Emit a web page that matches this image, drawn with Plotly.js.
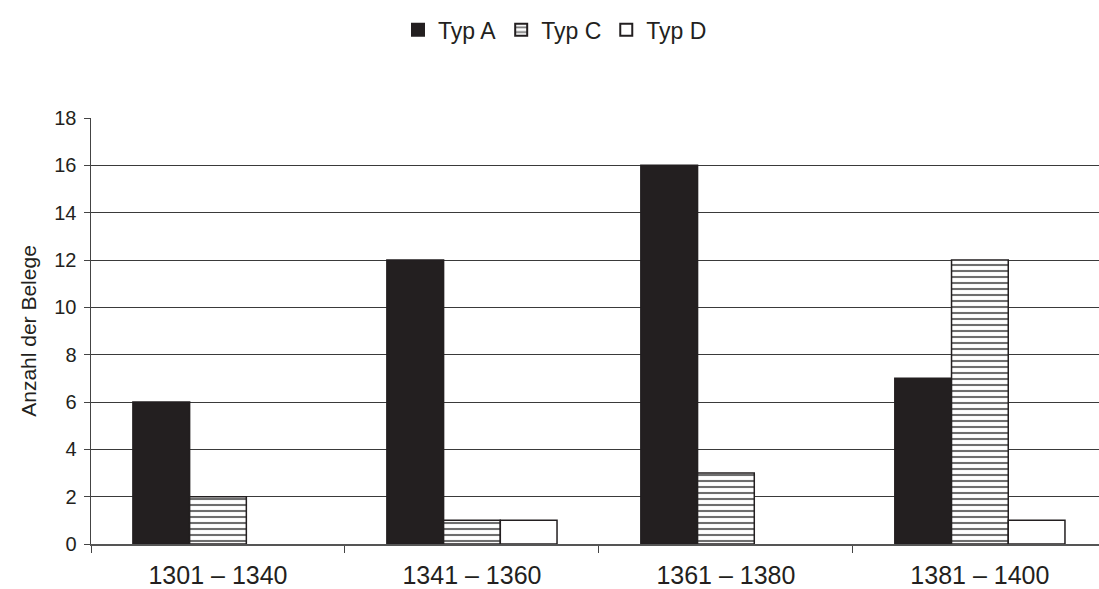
<!DOCTYPE html>
<html>
<head>
<meta charset="utf-8">
<script src="https://cdn.plot.ly/plotly-3.0.1.min.js"></script>
<style>
  html, body { margin: 0; padding: 0; background: #fff; }
  #chart { width: 1099px; height: 589px; }
</style>
</head>
<body>
<div id="chart"></div>
<script>
// Zeiträume (Kategorien) und Anzahl der Belege je Typ
const periods = ['1301 – 1340', '1341 – 1360', '1361 – 1380', '1381 – 1400'];
const typA = [6, 12, 16, 7];
const typC = [2, 1, 3, 12];
const typD = [0, 1, 0, 1];
const yTicks = [0, 2, 4, 6, 8, 10, 12, 14, 16, 18];

const ink = '#231f20';
// bars of height zero get no outline, so nothing is drawn on the baseline
const edgeFor = vals => ({ color: ink, width: vals.map(v => (v ? 1.5 : 0)) });

const traces = [
  {
    type: 'bar', name: 'Typ A', x: periods, y: typA,
    marker: { color: ink, line: edgeFor(typA) }
  },
  {
    type: 'bar', name: 'Typ C', x: periods, y: typC,
    marker: {
      color: '#ffffff', line: edgeFor(typC),
      pattern: { shape: '-', fgcolor: '#6e6e6e', bgcolor: '#ffffff', size: 6, solidity: 0.35 }
    }
  },
  {
    type: 'bar', name: 'Typ D', x: periods, y: typD,
    marker: { color: '#ffffff', line: edgeFor(typD) }
  }
];

const regular = 'Liberation Sans, Arial, sans-serif';

const layout = {
  width: 1099, height: 589,
  margin: { l: 91, r: 0, t: 118, b: 45, pad: 0 },
  paper_bgcolor: '#ffffff', plot_bgcolor: '#ffffff',
  font: { family: regular, size: 18, color: ink },
  barmode: 'group',
  bargap: 0.33, bargroupgap: 0,
  showlegend: true,
  legend: {
    orientation: 'h', x: 0.505, xanchor: 'center', xref: 'container',
    y: 0.986, yref: 'container', yanchor: 'top',
    font: { family: regular, size: 23, color: ink },
    itemwidth: 30, itemsizing: 'constant', traceorder: 'normal',
    bgcolor: 'rgba(0,0,0,0)'
  },
  xaxis: {
    type: 'category',
    range: [-0.5, 3.469],
    tickson: 'boundaries',
    ticks: 'outside', ticklen: 7, tickcolor: '#444', tickwidth: 1,
    showline: true, linecolor: '#555', linewidth: 1.5,
    showgrid: false, zeroline: false,
    tickfont: { family: regular, size: 25, color: ink },
    ticklabelstandoff: 8,
    fixedrange: true
  },
  yaxis: {
    range: [0, 18],
    tickvals: yTicks,
    ticktext: yTicks.map(String),
    ticks: 'outside', ticklen: 6, tickcolor: '#444', tickwidth: 1,
    showline: true, linecolor: '#444', linewidth: 1.5,
    showgrid: true, gridcolor: '#3a3a3a', gridwidth: 1,
    zeroline: false,
    tickfont: { family: regular, size: 20, color: ink },
    ticklabelstandoff: 3,
    title: { text: 'Anzahl der Belege', font: { family: regular, size: 21, color: ink }, standoff: 12 },
    fixedrange: true
  }
};

Plotly.newPlot('chart', traces, layout, { staticPlot: true, displayModeBar: false });
</script>
</body>
</html>
